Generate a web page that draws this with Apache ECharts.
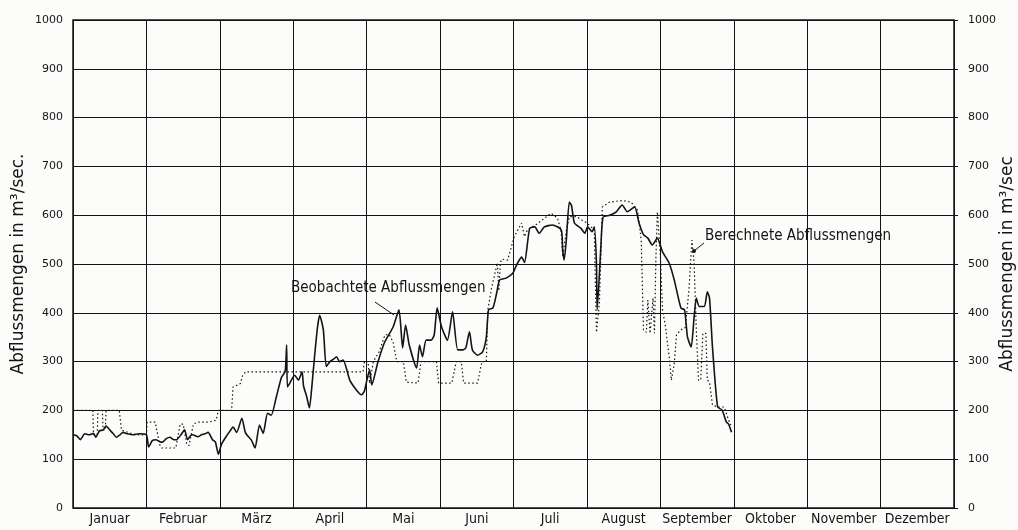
<!DOCTYPE html>
<html>
<head>
<meta charset="utf-8">
<script src="https://cdn.jsdelivr.net/npm/echarts/dist/echarts.min.js"></script>
<style>
  html, body { margin: 0; padding: 0; background: #fcfcfb; }
  #chart { width: 1018px; height: 530px; }
</style>
</head>
<body>
<div id="chart"></div>
<script>
// Monate (Kategorien der x-Achse)
var months = ['Januar', 'Februar', 'März', 'April', 'Mai', 'Juni', 'Juli',
  'August', 'September', 'Oktober', 'November', 'Dezember'];

// y-Achse: Abflussmengen in m3/sec
var yMin = 0, yMax = 1000, yStep = 100;

// Beobachtete Abflussmengen  [Monat (Bruchteil), m3/sec]
var observed = [
  [0.00,150],[0.05,148],[0.10,140],[0.16,152],[0.22,150],[0.28,153],[0.31,145],[0.36,158],
  [0.41,160],[0.45,168],[0.50,160],[0.55,152],[0.59,145],[0.64,150],[0.68,155],[0.74,152],
  [0.82,150],[0.90,152],[1.00,150],
  [1.03,125],[1.08,138],[1.13,140],[1.18,136],[1.22,135],[1.27,142],[1.32,145],[1.37,140],
  [1.41,140],[1.47,150],[1.52,160],[1.56,140],[1.60,148],[1.63,150],[1.70,146],[1.75,150],
  [1.80,152],[1.84,155],[1.90,140],[1.94,135],
  [1.98,110],[2.02,130],[2.08,145],[2.14,158],[2.18,166],[2.23,155],[2.30,184],[2.35,154],
  [2.43,139],[2.48,123],[2.54,170],[2.59,153],[2.65,194],[2.70,190],[2.77,228],[2.84,268],
  [2.89,280],[2.91,334],[2.92,248],[2.95,255],
  [3.02,272],[3.07,262],[3.12,279],[3.14,250],[3.18,230],[3.22,205],[3.26,260],[3.29,310],
  [3.33,370],[3.36,395],[3.41,365],[3.45,290],[3.50,300],[3.55,305],[3.59,310],[3.63,300],
  [3.68,303],[3.77,262],[3.86,242],[3.93,232],
  [3.97,240],[4.00,260],[4.04,283],[4.07,252],[4.15,297],[4.24,338],[4.36,371],[4.44,406],
  [4.49,328],[4.53,375],[4.58,334],[4.68,287],[4.72,334],[4.76,310],[4.81,344],[4.88,344],
  [4.92,355],[4.96,410],
  [5.02,371],[5.10,344],[5.17,402],[5.24,324],[5.31,324],[5.35,328],[5.40,361],[5.44,324],
  [5.51,313],[5.58,320],[5.63,350],[5.66,406],[5.72,410],[5.77,440],[5.81,467],[5.90,471],
  [5.99,481],
  [6.03,494],[6.06,503],[6.11,514],[6.15,503],[6.22,573],[6.29,576],[6.35,563],[6.42,576],
  [6.53,580],[6.65,570],[6.67,529],[6.69,508],[6.72,550],[6.76,627],[6.79,620],[6.83,584],
  [6.92,573],[6.97,563],
  [7.01,576],[7.07,566],[7.10,576],[7.13,502],[7.14,406],[7.19,535],[7.22,596],[7.31,600],
  [7.40,607],[7.48,621],[7.55,607],[7.65,617],[7.71,584],[7.77,560],[7.83,553],[7.89,539],
  [7.96,553],
  [8.03,525],[8.12,502],[8.19,467],[8.28,410],[8.33,406],[8.37,350],[8.42,330],[8.46,391],
  [8.49,430],[8.53,413],[8.60,413],[8.64,443],[8.67,430],[8.71,330],[8.78,207],[8.84,201],
  [8.90,176],[8.93,172],[8.97,155]
];

// Berechnete Abflussmengen  [Monat (Bruchteil), m3/sec]
var computed = [
  [0.00,200],[0.27,200],[0.28,150],[0.33,150],[0.34,200],[0.40,200],[0.41,160],[0.44,160],
  [0.45,200],[0.63,200],[0.66,160],[0.75,155],[0.85,150],[1.00,150],
  [1.01,176],[1.12,176],[1.18,130],[1.21,123],[1.40,123],[1.46,172],[1.50,172],[1.55,130],
  [1.58,128],[1.64,172],[1.70,176],[1.85,176],[1.95,180],
  [1.98,200],[2.16,200],[2.18,248],[2.24,252],[2.28,255],[2.31,272],[2.35,279],[3.95,279],
  [3.97,300],[4.02,300],[4.04,255],[4.06,255],[4.09,300],[4.17,320],[4.25,355],[4.31,355],
  [4.36,340],[4.41,300],[4.50,300],[4.54,258],[4.70,256],[4.74,300],[4.95,300],
  [4.98,256],[5.16,256],[5.22,300],[5.29,300],[5.32,256],[5.51,256],[5.57,300],[5.63,300],
  [5.65,406],[5.70,450],[5.78,502],[5.80,445],[5.82,502],[5.84,510],
  [5.92,508],[5.96,529],[6.01,556],[6.11,584],[6.15,556],[6.19,570],[6.30,580],[6.39,590],
  [6.51,604],[6.60,594],[6.65,566],[6.67,515],[6.69,512],[6.72,570],[6.76,597],[6.86,597],
  [6.93,590],
  [7.00,584],[7.10,570],[7.13,360],[7.17,420],[7.21,617],[7.31,627],[7.48,630],[7.60,627],
  [7.69,610],[7.74,549],[7.77,365],[7.81,360],[7.83,426],[7.86,358],[7.90,430],[7.92,358],
  [7.94,514],[7.96,607],
  [8.00,520],[8.03,406],[8.07,372],[8.12,310],[8.15,262],[8.19,296],[8.22,355],[8.28,365],
  [8.34,370],[8.39,447],[8.43,549],[8.46,502],[8.49,365],[8.52,262],[8.55,262],[8.58,358],
  [8.62,358],[8.64,262],[8.67,258],[8.71,211],[8.78,207],[8.87,207],[8.93,180],[8.96,170]
];

var ink = '#141414';
var tickFont = 'DejaVu Sans, Verdana, sans-serif';
var narrowFont = 'DejaVu Sans Condensed, Liberation Sans Narrow, DejaVu Sans, sans-serif';

var chart = echarts.init(document.getElementById('chart'));
var option = {
  backgroundColor: '#fcfcfb',
  animation: false,
  grid: {
    left: 73, right: 64, top: 20, bottom: 22,
    containLabel: false, outerBoundsMode: 'none',
    show: true, borderColor: ink, borderWidth: 1.5
  },
  xAxis: [
    {
      // Monatsgrenzen
      type: 'value', min: 0, max: months.length, interval: 1,
      axisLine: { show: false },
      axisTick: { show: false },
      axisLabel: { show: false },
      splitLine: { show: true, lineStyle: { color: ink, width: 1 } }
    },
    {
      // Monatsnamen
      type: 'category', data: months, position: 'bottom', boundaryGap: true,
      axisLine: { show: false },
      axisTick: { show: false },
      splitLine: { show: false },
      axisLabel: { color: ink, fontSize: 14, fontFamily: narrowFont, margin: 4, interval: 0, hideOverlap: false }
    }
  ],
  yAxis: [
    {
      type: 'value', min: yMin, max: yMax, interval: yStep, position: 'left',
      name: 'Abflussmengen in m³/sec.', nameLocation: 'middle', nameRotate: 90, nameGap: 46,
      nameMoveOverlap: false,
      nameTextStyle: { color: ink, fontSize: 17, fontFamily: tickFont },
      axisLine: { show: false },
      axisTick: { show: false },
      axisLabel: { color: ink, fontSize: 11, fontFamily: tickFont, margin: 10, formatter: function (v) { return String(v); } },
      splitLine: { show: true, lineStyle: { color: ink, width: 1 } }
    },
    {
      type: 'value', min: yMin, max: yMax, interval: yStep, position: 'right',
      name: 'Abflussmengen in m³/sec', nameLocation: 'middle', nameRotate: 90, nameGap: 45,
      nameMoveOverlap: false,
      nameTextStyle: { color: ink, fontSize: 17, fontFamily: tickFont },
      axisLine: { show: false },
      axisTick: { show: true, length: 4, lineStyle: { color: ink } },
      axisLabel: { color: ink, fontSize: 11, fontFamily: tickFont, margin: 14, formatter: function (v) { return String(v); } },
      splitLine: { show: false }
    }
  ],
  series: [
    {
      name: 'Berechnete Abflussmengen', type: 'line', xAxisIndex: 0, yAxisIndex: 0,
      data: computed, showSymbol: false,
      lineStyle: { color: ink, width: 1.2, type: [1.5, 2.5] }
    },
    {
      name: 'Beobachtete Abflussmengen', type: 'line', xAxisIndex: 0, yAxisIndex: 0,
      data: observed, showSymbol: false, smooth: 0.2,
      lineStyle: { color: ink, width: 1.6 }
    }
  ],
  graphic: [
    {
      type: 'text', left: 291, top: 281,
      style: { text: 'Beobachtete Abflussmengen', fill: ink, font: '15px ' + narrowFont }
    },
    {
      type: 'line', shape: { x1: 375, y1: 302, x2: 394, y2: 315 },
      style: { stroke: ink, lineWidth: 1 }
    },
    {
      type: 'text', left: 705, top: 229,
      style: { text: 'Berechnete Abflussmengen', fill: ink, font: '15px ' + narrowFont }
    },
    {
      type: 'line', shape: { x1: 704, y1: 243, x2: 694, y2: 251 },
      style: { stroke: ink, lineWidth: 1 }
    },
    {
      type: 'circle', shape: { cx: 694, cy: 251, r: 2 },
      style: { fill: ink }
    }
  ]
};
chart.setOption(option);
</script>
</body>
</html>
